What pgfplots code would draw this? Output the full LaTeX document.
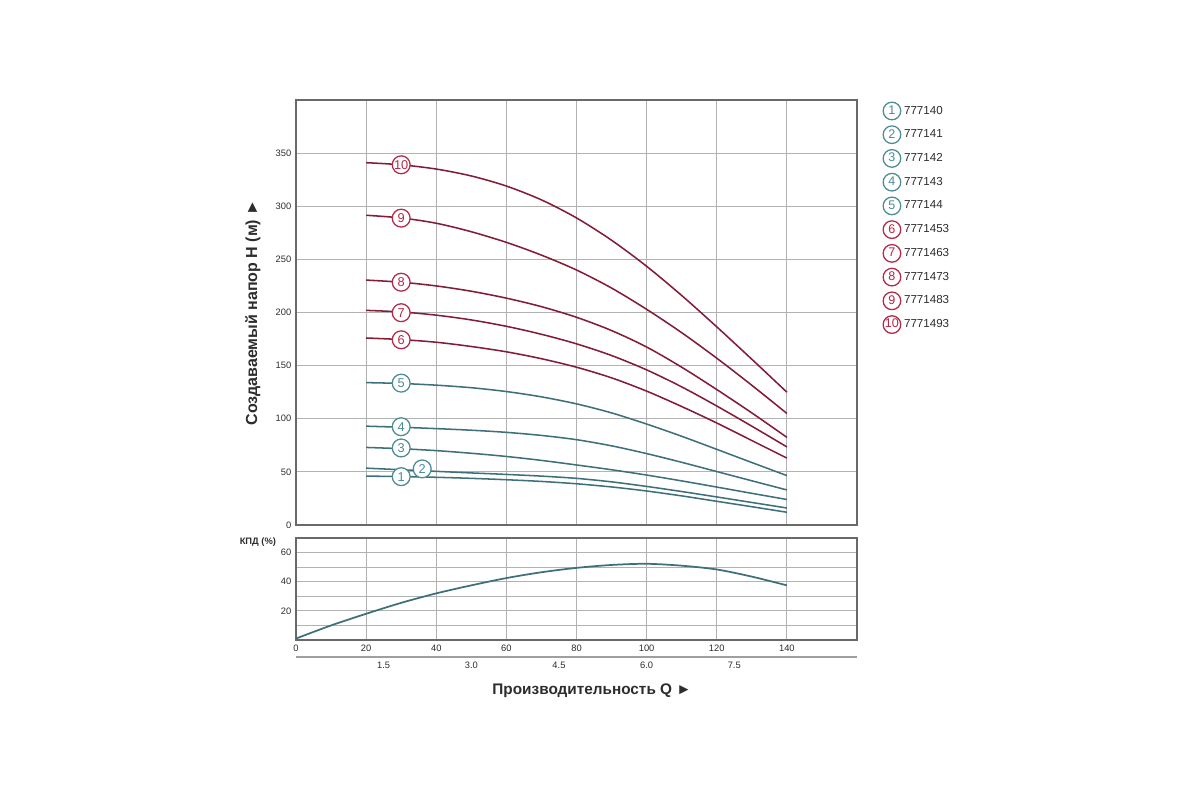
\documentclass[border=0pt]{standalone}
\usepackage{pgfplots}
\pgfplotsset{compat=1.18}
\usepackage{fontspec}
\setmainfont{Liberation Sans}
\definecolor{tealline}{RGB}{62,112,122}
\definecolor{tealc}{RGB}{75,140,150}
\definecolor{redline}{RGB}{130,28,55}
\definecolor{redc}{RGB}{180,40,72}
\definecolor{gridc}{RGB}{178,178,178}
\definecolor{framec}{RGB}{105,105,105}
\definecolor{txt}{RGB}{45,45,45}
\pgfplotsset{
  common/.style={
    scale only axis, width=420.75pt, xmin=0, xmax=160,
    major grid style={gridc, line width=0.8pt},
    minor grid style={gridc, line width=0.8pt},
    axis line style={framec, line width=1.1pt},
    major tick length=0pt, minor tick length=0pt,
    tick label style={font=\fontsize{7}{8}\selectfont, text=txt},
    /pgf/number format/assume math mode=true,
  },
  bl/.style={tealline, line width=1.15pt, smooth, forget plot},
  rl/.style={redline, line width=1.15pt, smooth, forget plot},
  lab/.style={only marks, mark=*, mark size=6.7pt, forget plot,
    mark options={fill=white, draw=#1, line width=0.95pt},
    point meta=explicit symbolic, nodes near coords,
    every node near coord/.append style={anchor=center, text=#1,
      font=\fontsize{9.6}{10}\selectfont, inner sep=0pt}},
  legimg/.style 2 args={legend image code/.code={%
    \node[circle, draw=#1, line width=0.95pt, fill=white, inner sep=0pt,
      minimum size=13.2pt, text=#1, font=\fontsize{9.4}{10}\selectfont] at (6.8pt,0) {#2};}},
}
\begin{document}
\begin{tikzpicture}
\fill[white] (0,0) rectangle (900pt,600pt);
\path[use as bounding box] (0,0) rectangle (900pt,600pt);

% ---------------- upper axis: head ----------------
\begin{axis}[common, at={(222pt,206.25pt)}, anchor=origin,
  height=318.75pt, ymin=0, ymax=400,
  grid=major,
  xtick={0,20,...,140}, xticklabels={},
  ytick={0,50,...,350},
  ylabel={Создаваемый напор H (м) ►},
  ylabel style={at={(axis description cs:-0.077,0.5)}, anchor=center,
    font=\bfseries\fontsize{12}{14}\selectfont, text=txt},
  legend style={at={(axis description cs:1.045,0.997)}, anchor=north west,
    draw=none, fill=none, inner sep=0pt, row sep=3.65pt,
    font=\fontsize{8.7}{10}\selectfont, text=txt},
  legend cell align=left,
]
\addlegendimage{legimg={tealc}{1}}\addlegendentry{777140}
\addlegendimage{legimg={tealc}{2}}\addlegendentry{777141}
\addlegendimage{legimg={tealc}{3}}\addlegendentry{777142}
\addlegendimage{legimg={tealc}{4}}\addlegendentry{777143}
\addlegendimage{legimg={tealc}{5}}\addlegendentry{777144}
\addlegendimage{legimg={redc}{6}}\addlegendentry{7771453}
\addlegendimage{legimg={redc}{7}}\addlegendentry{7771463}
\addlegendimage{legimg={redc}{8}}\addlegendentry{7771473}
\addlegendimage{legimg={redc}{9}}\addlegendentry{7771483}
\addlegendimage{legimg={redc}{10}}\addlegendentry{7771493}

\addplot[bl] coordinates {(20,46) (30,45.6) (40,44.9) (50,43.9) (60,42.6) (70,41) (80,38.8) (90,35.8) (100,32) (110,27.4) (120,22.3) (130,17.2) (140,12)};
\addplot[bl] coordinates {(20,53.5) (30,52) (40,50.5) (50,49) (60,47.6) (70,46) (80,43.9) (90,40.6) (100,36.3) (110,31.5) (120,26.4) (130,21.2) (140,16)};
\addplot[bl] coordinates {(20,73) (30,71.8) (40,70) (50,67.5) (60,64.5) (70,60.8) (80,56.5) (90,52) (100,47) (110,41.5) (120,35.7) (130,29.8) (140,24)};
\addplot[bl] coordinates {(20,93) (30,92) (40,90.7) (50,89.2) (60,87.2) (70,84.3) (80,80.3) (90,74.5) (100,67.2) (110,59) (120,50.3) (130,41.6) (140,33)};
\addplot[bl] coordinates {(20,134) (30,133.2) (40,131.6) (50,129.2) (60,125.6) (70,120.6) (80,114) (90,105.5) (100,95) (110,83.5) (120,71.2) (130,58.8) (140,46.5)};
\addplot[rl] coordinates {(20,176) (30,174.5) (40,172) (50,168) (60,163) (70,156.5) (80,148.5) (90,138.5) (100,126) (110,111.5) (120,96) (130,79.5) (140,63)};
\addplot[rl] coordinates {(20,202) (30,200.5) (40,197.5) (50,193) (60,187) (70,179.5) (80,170.5) (90,159.5) (100,146) (110,130) (120,112) (130,93) (140,73.5)};
\addplot[rl] coordinates {(20,230.5) (30,228.5) (40,225) (50,220) (60,213.5) (70,205.5) (80,195.5) (90,183) (100,167.5) (110,148.5) (120,127.5) (130,105.5) (140,82.5)};
\addplot[rl] coordinates {(20,291.5) (30,289) (40,284) (50,276) (60,266) (70,254) (80,240) (90,223) (100,203) (110,181) (120,157) (130,131.5) (140,105)};
\addplot[rl] coordinates {(20,341) (30,339) (40,335) (50,328.5) (60,319) (70,306) (80,289) (90,268) (100,243.5) (110,216) (120,186.5) (130,156) (140,125)};

\addplot[lab=tealc] coordinates {(30,45.5) [1] (36,52.8) [2] (30,72.5) [3] (30,92.5) [4] (30,133.5) [5]};
\addplot[lab=redc] coordinates {(30,174.3) [6] (30,199.8) [7] (30,228.5) [8] (30,288.8) [9] (30,339) [10]};
\end{axis}

% ---------------- lower axis: efficiency ----------------
\begin{axis}[common, at={(222pt,120pt)}, anchor=origin,
  height=76.5pt, ymin=0, ymax=70,
  grid=both,
  xtick={0,20,...,140},
  ytick={20,40,60}, minor ytick={10,30,50},
  ylabel={КПД (\%)},
  ylabel style={at={(axis description cs:-0.068,0.96)}, anchor=center, rotate=-90,
    font=\bfseries\fontsize{7}{8}\selectfont, text=txt},
  xlabel={Производительность Q ►},
  xlabel style={at={(axis description cs:0.5276,-0.5)}, anchor=center,
    font=\bfseries\fontsize{11.5}{13}\selectfont, text=txt},
]
\addplot[tealline, line width=1.3pt, smooth] coordinates {(0,1) (10,10) (20,18) (30,25.5) (40,32) (50,37.5) (60,42.5) (70,46.5) (80,49.5) (90,51.5) (100,52.3) (110,51) (120,48.4) (130,43.5) (140,37.5)};
\node[anchor=west, font=\fontsize{7}{8}\selectfont, text=txt, inner sep=0pt] at (axis description cs:1.006,-0.1) {л/мин};
\end{axis}

% ---------------- secondary flow scale (m3/h) ----------------
\begin{axis}[at={(222pt,107.25pt)}, anchor=origin,
  scale only axis, width=420.75pt, height=1pt,
  xmin=0, xmax=9.6, ymin=0, ymax=1,
  axis x line*=bottom, axis y line=none,
  x axis line style={gray!75, line width=1.6pt},
  major tick length=0pt,
  xtick={1.5,3,4.5,6,7.5}, xticklabels={1.5,3.0,4.5,6.0,7.5},
  tick label style={font=\fontsize{7}{8}\selectfont, text=txt},
]
\node[anchor=west, font=\fontsize{7}{8}\selectfont, text=txt, inner sep=0pt] at (axis description cs:1.006,0) [yshift=-6.5pt] {м³/ч};
\end{axis}
\end{tikzpicture}
\end{document}
